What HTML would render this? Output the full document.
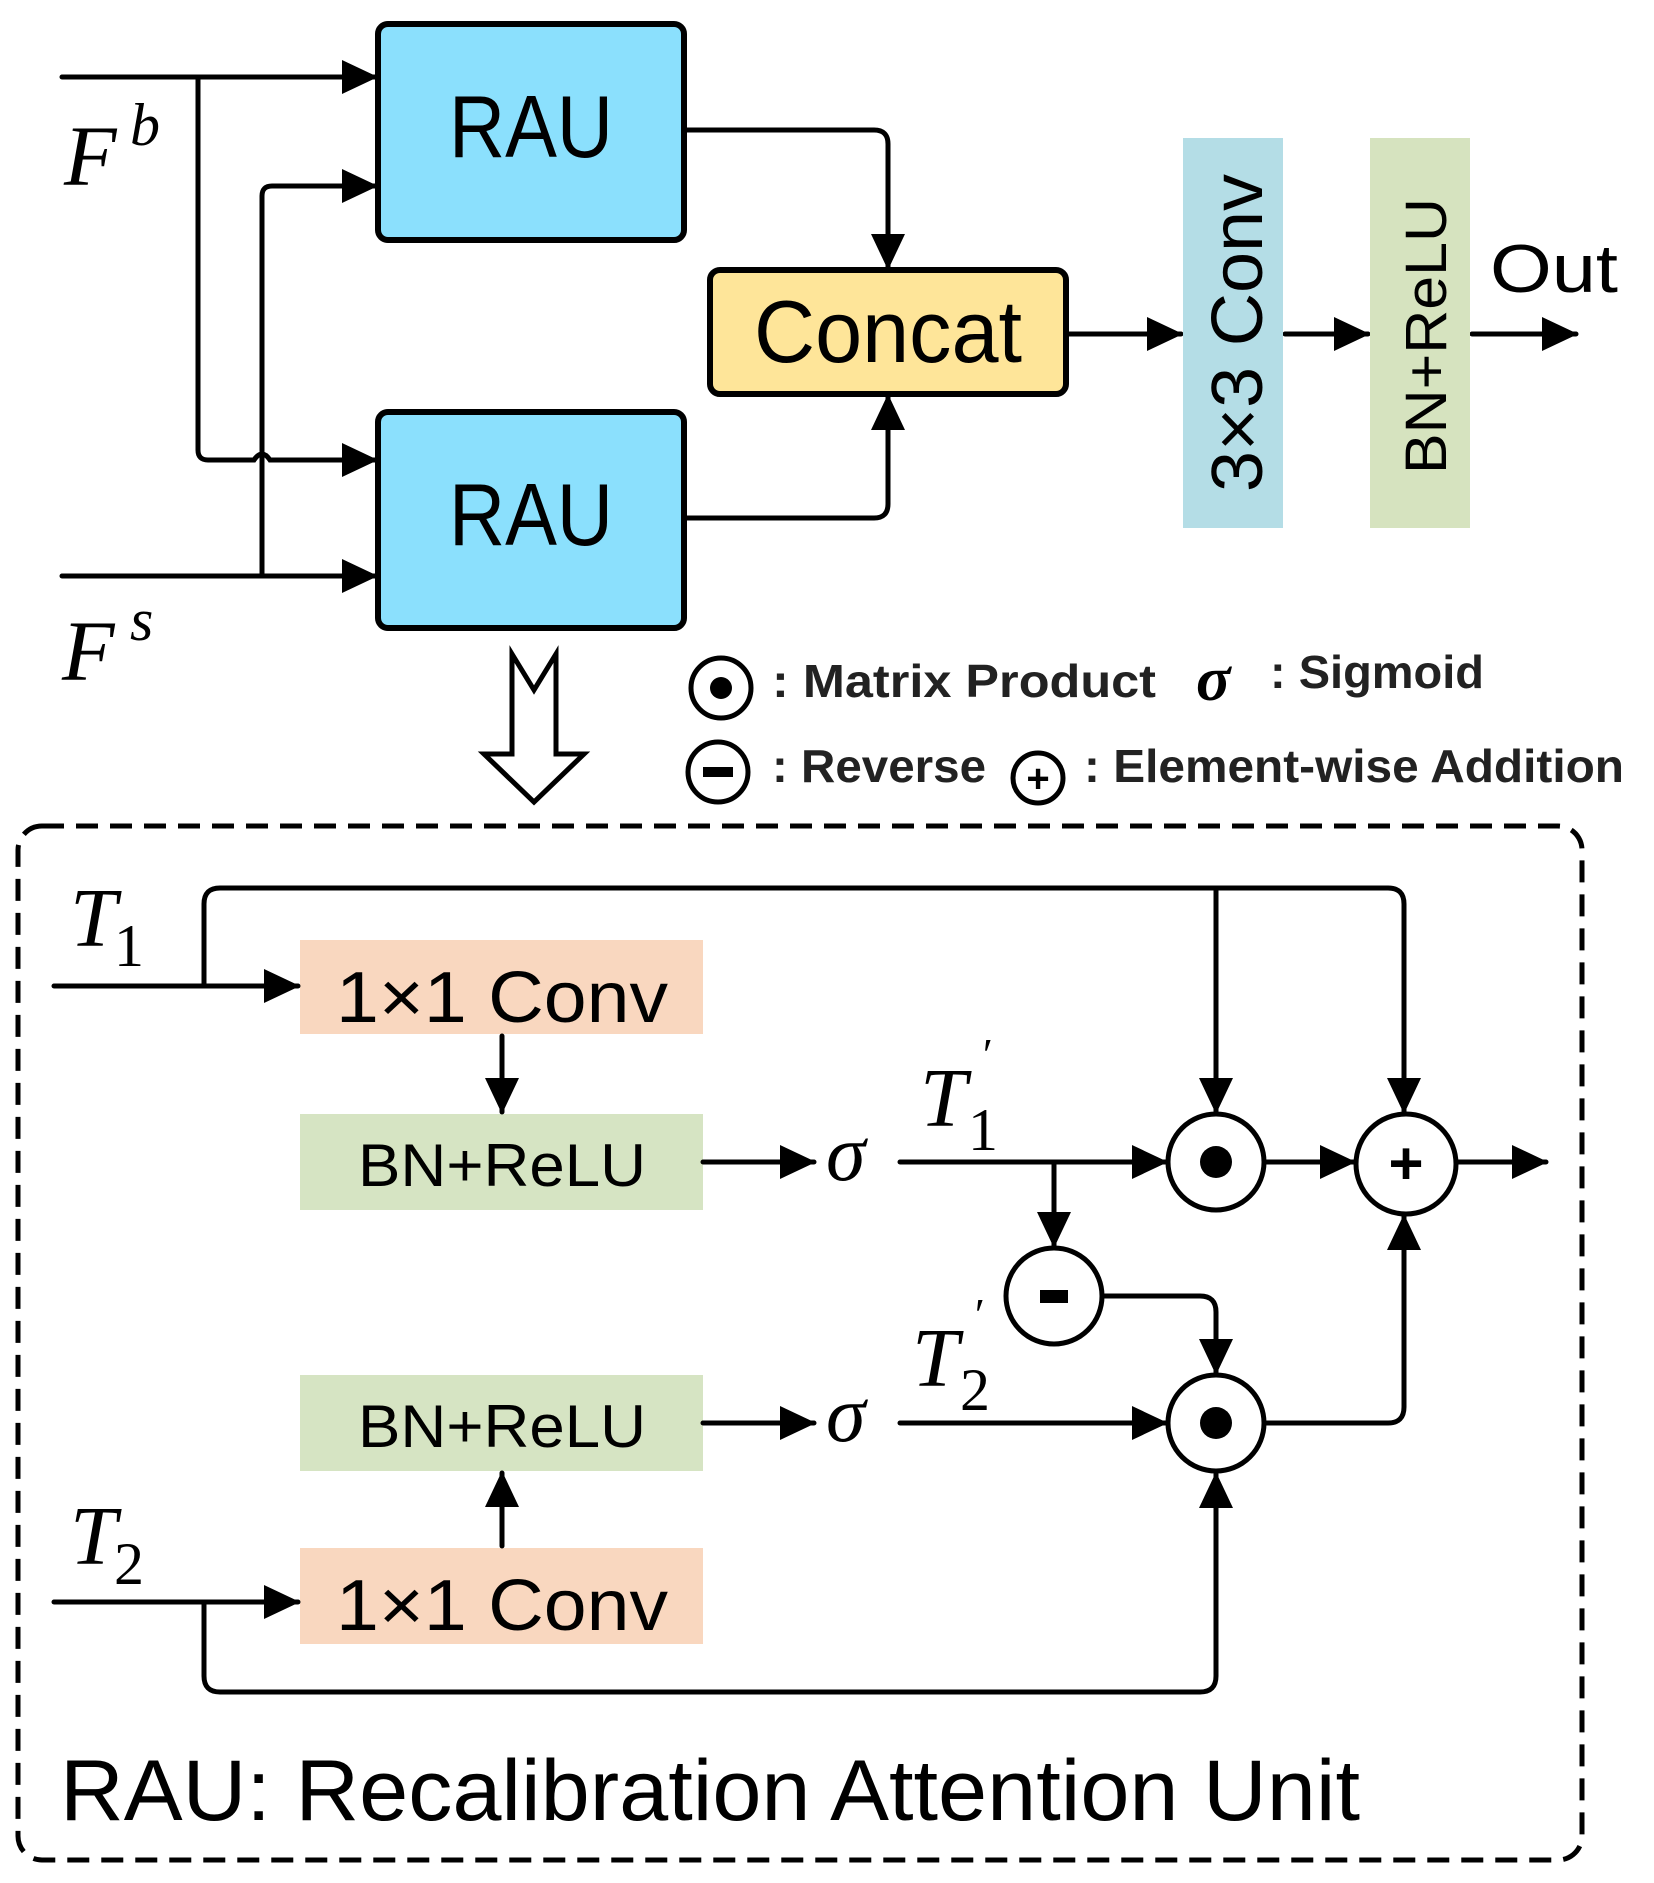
<!DOCTYPE html>
<html><head><meta charset="utf-8"><style>
html,body{margin:0;padding:0;background:#fff;}
svg{display:block;}
text{font-family:"Liberation Sans",sans-serif;}
.s{font-family:"Liberation Serif",serif;font-style:italic;}
.n{font-family:"Liberation Serif",serif;font-style:normal;}
</style></head><body>
<svg width="1654" height="1883" viewBox="0 0 1654 1883" xmlns="http://www.w3.org/2000/svg">
<defs>
<marker id="a" markerUnits="userSpaceOnUse" markerWidth="36" markerHeight="34" refX="34" refY="17" orient="auto">
<path d="M0,0 L36,17 L0,34 Z" fill="#000"/>
</marker>
</defs>
<g fill="none" stroke="#000" stroke-width="5" stroke-linecap="round">
<line x1="62" y1="77" x2="376" y2="77" marker-end="url(#a)"/>
<line x1="62" y1="576" x2="376" y2="576" marker-end="url(#a)"/>
<path d="M198,77 L198,450 Q198,460 208,460 L254,460 Q262,448 270,460 L376,460" marker-end="url(#a)"/>
<path d="M262,576 L262,196 Q262,186 272,186 L376,186" marker-end="url(#a)"/>
<path d="M686,130 L874,130 Q888,130 888,144 L888,268" marker-end="url(#a)"/>
<path d="M686,518 L874,518 Q888,518 888,504 L888,396" marker-end="url(#a)"/>
<line x1="1068" y1="334" x2="1181" y2="334" marker-end="url(#a)"/>
<line x1="1285" y1="334" x2="1368" y2="334" marker-end="url(#a)"/>
<line x1="1472" y1="334" x2="1576" y2="334" marker-end="url(#a)"/>
</g>
<rect x="378" y="24" width="306" height="216" rx="10" fill="#8be0fd" stroke="#000" stroke-width="6"/>
<rect x="378" y="412" width="306" height="216" rx="10" fill="#8be0fd" stroke="#000" stroke-width="6"/>
<rect x="710" y="270" width="356" height="124" rx="10" fill="#fee599" stroke="#000" stroke-width="6"/>
<rect x="1183" y="138" width="100" height="390" fill="#b4dde6"/>
<rect x="1370" y="138" width="100" height="390" fill="#d6e3bf"/>
<text x="531" y="157" font-size="88" text-anchor="middle" textLength="164" lengthAdjust="spacingAndGlyphs">RAU</text>
<text x="531" y="545" font-size="88" text-anchor="middle" textLength="164" lengthAdjust="spacingAndGlyphs">RAU</text>
<text x="888" y="362" font-size="88" text-anchor="middle" textLength="268" lengthAdjust="spacingAndGlyphs">Concat</text>
<text transform="translate(1262,333) rotate(-90)" font-size="72" text-anchor="middle" textLength="318" lengthAdjust="spacingAndGlyphs">3×3 Conv</text>
<text transform="translate(1446,336) rotate(-90)" font-size="58" text-anchor="middle" textLength="276" lengthAdjust="spacingAndGlyphs">BN+ReLU</text>
<text x="1490" y="292" font-size="68" textLength="128" lengthAdjust="spacingAndGlyphs">Out</text>
<text class="s" x="64" y="185" font-size="86">F</text><text class="s" x="130" y="145" font-size="60">b</text>
<text class="s" x="62" y="680" font-size="86">F</text><text class="s" x="130" y="640" font-size="60">s</text>
<path d="M512,654 L534,690 L556,654 L556,754 L584,754 L534,802 L484,754 L512,754 Z" fill="#fff" stroke="#000" stroke-width="5" stroke-linejoin="miter"/>
<g stroke="#000" stroke-width="5" fill="#fff">
<circle cx="721" cy="688" r="30"/><circle cx="718" cy="772" r="30"/><circle cx="1038" cy="778" r="25"/>
</g>
<circle cx="721" cy="688" r="11" fill="#000"/>
<rect x="703" y="767" width="30" height="10" fill="#000"/>
<text x="1038" y="792" font-size="40" text-anchor="middle" font-weight="bold">+</text>
<text x="772" y="697" font-size="46" font-weight="bold" fill="#222" textLength="384" lengthAdjust="spacingAndGlyphs">: Matrix Product</text>
<text class="s" x="1196" y="700" font-size="64" font-weight="bold">σ</text>
<text x="1270" y="688" font-size="46" font-weight="bold" fill="#222" textLength="214" lengthAdjust="spacingAndGlyphs">: Sigmoid</text>
<text x="772" y="782" font-size="46" font-weight="bold" fill="#222" textLength="214" lengthAdjust="spacingAndGlyphs">: Reverse</text>
<text x="1084" y="782" font-size="46" font-weight="bold" fill="#222" textLength="540" lengthAdjust="spacingAndGlyphs">: Element-wise Addition</text>
<rect x="18" y="826" width="1564" height="1034" rx="24" fill="none" stroke="#000" stroke-width="5" stroke-dasharray="22,12"/>
<rect x="300" y="940" width="403" height="94" fill="#f9d7bf"/>
<rect x="300" y="1114" width="403" height="96" fill="#d6e4c3"/>
<rect x="300" y="1375" width="403" height="96" fill="#d6e4c3"/>
<rect x="300" y="1548" width="403" height="96" fill="#f9d7bf"/>
<text x="502" y="1022" font-size="72" text-anchor="middle" textLength="332" lengthAdjust="spacingAndGlyphs">1×1 Conv</text>
<text x="502" y="1186" font-size="60" text-anchor="middle" textLength="288" lengthAdjust="spacingAndGlyphs">BN+ReLU</text>
<text x="502" y="1447" font-size="60" text-anchor="middle" textLength="288" lengthAdjust="spacingAndGlyphs">BN+ReLU</text>
<text x="502" y="1630" font-size="72" text-anchor="middle" textLength="332" lengthAdjust="spacingAndGlyphs">1×1 Conv</text>
<g fill="none" stroke="#000" stroke-width="5" stroke-linecap="round">
<line x1="54" y1="986" x2="298" y2="986" marker-end="url(#a)"/>
<path d="M204,986 L204,904 Q204,888 220,888 L1388,888 Q1404,888 1404,904 L1404,1112" marker-end="url(#a)"/>
<line x1="1216" y1="888" x2="1216" y2="1112" marker-end="url(#a)"/>
<line x1="502" y1="1036" x2="502" y2="1112" marker-end="url(#a)"/>
<line x1="703" y1="1162" x2="814" y2="1162" marker-end="url(#a)"/>
<line x1="900" y1="1162" x2="1166" y2="1162" marker-end="url(#a)"/>
<line x1="1054" y1="1162" x2="1054" y2="1246" marker-end="url(#a)"/>
<line x1="1266" y1="1162" x2="1354" y2="1162" marker-end="url(#a)"/>
<line x1="1456" y1="1162" x2="1546" y2="1162" marker-end="url(#a)"/>
<path d="M1104,1296 L1200,1296 Q1216,1296 1216,1312 L1216,1373" marker-end="url(#a)"/>
<line x1="703" y1="1423" x2="814" y2="1423" marker-end="url(#a)"/>
<line x1="900" y1="1423" x2="1166" y2="1423" marker-end="url(#a)"/>
<path d="M1266,1423 L1388,1423 Q1404,1423 1404,1407 L1404,1216" marker-end="url(#a)"/>
<line x1="502" y1="1546" x2="502" y2="1473" marker-end="url(#a)"/>
<line x1="54" y1="1602" x2="298" y2="1602" marker-end="url(#a)"/>
<path d="M204,1602 L204,1676 Q204,1692 220,1692 L1200,1692 Q1216,1692 1216,1676 L1216,1474" marker-end="url(#a)"/>
</g>
<g stroke="#000" stroke-width="5" fill="#fff">
<circle cx="1216" cy="1162" r="48"/>
<circle cx="1406" cy="1164" r="50"/>
<circle cx="1054" cy="1296" r="48"/>
<circle cx="1216" cy="1423" r="48"/>
</g>
<circle cx="1216" cy="1162" r="16" fill="#000"/>
<circle cx="1216" cy="1423" r="16" fill="#000"/>
<rect x="1040" y="1290" width="28" height="13" fill="#000"/>
<text x="1406" y="1184" font-size="60" text-anchor="middle" font-weight="bold">+</text>
<text class="s" x="826" y="1180" font-size="80">σ</text>
<text class="s" x="826" y="1441" font-size="80">σ</text>
<text class="s" x="70" y="946" font-size="84">T</text><text class="n" x="114" y="966" font-size="60">1</text>
<text class="s" x="70" y="1564" font-size="84">T</text><text class="n" x="114" y="1584" font-size="60">2</text>
<text class="s" x="920" y="1126" font-size="84">T</text><text class="n" x="968" y="1150" font-size="60">1</text><text class="s" x="980" y="1070" font-size="46">′</text>
<text class="s" x="912" y="1386" font-size="84">T</text><text class="n" x="960" y="1410" font-size="60">2</text><text class="s" x="972" y="1330" font-size="46">′</text>
<text x="60" y="1820" font-size="86" textLength="1300" lengthAdjust="spacingAndGlyphs">RAU: Recalibration Attention Unit</text>
</svg>
</body></html>
